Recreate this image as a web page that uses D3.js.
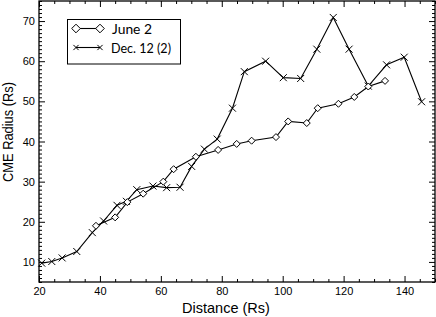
<!DOCTYPE html>
<html>
<head>
<meta charset="utf-8">
<script src="https://cdn.jsdelivr.net/npm/d3@7"></script>
<style>
  body { margin: 0; background: #fff; }
  text { font-family: "Liberation Sans", Arial, sans-serif; fill: #000; }
</style>
</head>
<body>
<div id="chart"></div>
<script>
// June 2 event (diamonds)
var juneDist = [38.7, 45.0, 49.0, 54.2, 60.8, 64.2, 71.5, 78.8, 84.9, 89.8, 97.8, 101.8, 107.9, 111.5, 118.3, 123.5, 128.1, 133.6];
var juneRad  = [19.0, 21.1, 24.9, 27.0, 30.0, 33.1, 36.2, 37.9, 39.4, 40.2, 41.1, 45.0, 44.6, 48.3, 49.4, 51.1, 53.7, 55.1];

// Dec. 12 (2) event (crosses)
var decDist = [20.9, 24.2, 27.6, 32.4, 37.5, 41.2, 45.6, 48.7, 52.1, 57.4, 61.9, 66.3, 70.1, 74.3, 78.5, 83.5, 87.4, 94.4, 100.2, 105.9, 111.2, 116.6, 121.8, 128.1, 134.1, 139.9, 145.6];
var decRad  = [9.7, 10.1, 11.0, 12.6, 17.3, 20.2, 24.1, 25.1, 28.0, 28.9, 28.5, 28.6, 33.8, 38.1, 40.6, 48.3, 57.4, 60.0, 55.9, 55.7, 63.0, 70.9, 63.0, 53.8, 59.1, 61.0, 49.9];

var xTicks = [20, 40, 60, 80, 100, 120, 140];
var yTicks = [10, 20, 30, 40, 50, 60, 70];
var legendLabels = ["June 2", "Dec. 12 (2)"];

function init() {
    var w = 436, h = 317;
    var left = 39, right = 435, top = 1, bottom = 282;

    var svg = d3.select("#chart").append("svg")
        .attr("width", w)
        .attr("height", h);

    var x = d3.scaleLinear().domain([20, 150]).range([left, right]);
    var y = d3.scaleLinear().domain([5, 75]).range([bottom, top]);

    // minor ticks
    var xMinor = d3.range(20, 151, 5).filter(function (d) { return d % 20 !== 0; });
    var yMinor = d3.range(5, 76, 1).filter(function (d) { return d % 10 !== 0; });

    function noDomain(g) { g.select(".domain").remove(); }

    // bottom & top
    svg.append("g").attr("transform", "translate(0," + bottom + ")")
        .call(d3.axisBottom(x).tickValues(xMinor).tickSize(-3).tickFormat(""))
        .call(noDomain);
    svg.append("g").attr("class", "x-axis").attr("transform", "translate(0," + bottom + ")")
        .call(d3.axisBottom(x).tickValues(xTicks).tickSize(-6).tickPadding(5))
        .call(function (g) { noDomain(g); g.selectAll("text").style("font-size", "11px"); });
    svg.append("g").attr("transform", "translate(0," + top + ")")
        .call(d3.axisTop(x).tickValues(xMinor).tickSize(-3).tickFormat(""))
        .call(noDomain);
    svg.append("g").attr("transform", "translate(0," + top + ")")
        .call(d3.axisTop(x).tickValues(xTicks).tickSize(-6).tickFormat(""))
        .call(noDomain);

    // left & right
    svg.append("g").attr("transform", "translate(" + left + ",0)")
        .call(d3.axisLeft(y).tickValues(yMinor).tickSize(-3).tickFormat(""))
        .call(noDomain);
    svg.append("g").attr("class", "y-axis").attr("transform", "translate(" + left + ",0)")
        .call(d3.axisLeft(y).tickValues(yTicks).tickSize(-6).tickPadding(4))
        .call(function (g) { noDomain(g); g.selectAll("text").style("font-size", "11px"); });
    svg.append("g").attr("transform", "translate(" + right + ",0)")
        .call(d3.axisRight(y).tickValues(yMinor).tickSize(-3).tickFormat(""))
        .call(noDomain);
    svg.append("g").attr("transform", "translate(" + right + ",0)")
        .call(d3.axisRight(y).tickValues(yTicks).tickSize(-6).tickFormat(""))
        .call(noDomain);

    svg.append("rect")
        .attr("x", left).attr("y", top)
        .attr("width", right - left).attr("height", bottom - top)
        .attr("fill", "none").attr("stroke", "#000").attr("stroke-width", 1.3);

    var line = d3.line().x(function (d) { return x(d[0]); }).y(function (d) { return y(d[1]); });
    var june = d3.zip(juneDist, juneRad);
    var dec = d3.zip(decDist, decRad);

    function diamond(sel, r) {
        sel.append("path")
            .attr("d", "M0," + (-r) + "L" + r + ",0L0," + r + "L" + (-r) + ",0Z")
            .attr("fill", "#fff").attr("stroke", "#000").attr("stroke-width", 1);
    }
    function cross(sel, r) {
        sel.append("path")
            .attr("d", "M" + (-r) + "," + (-r) + "L" + r + "," + r + "M" + (-r) + "," + r + "L" + r + "," + (-r))
            .attr("fill", "none").attr("stroke", "#000").attr("stroke-width", 1);
    }

    svg.append("path").datum(dec).attr("d", line)
        .attr("fill", "none").attr("stroke", "#000").attr("stroke-width", 1.1);
    svg.append("path").datum(june).attr("d", line)
        .attr("fill", "none").attr("stroke", "#000").attr("stroke-width", 1.1);

    svg.append("g").selectAll("g").data(dec).join("g")
        .attr("transform", function (d) { return "translate(" + x(d[0]) + "," + y(d[1]) + ")"; })
        .each(function () { cross(d3.select(this), 3.5); });
    svg.append("g").selectAll("g").data(june).join("g")
        .attr("transform", function (d) { return "translate(" + x(d[0]) + "," + y(d[1]) + ")"; })
        .each(function () { diamond(d3.select(this), 3.5); });

    // legend
    var lg = svg.append("g");
    lg.append("rect").attr("x", 67.5).attr("y", 19.5).attr("width", 113).attr("height", 44.5)
        .attr("fill", "#fff").attr("stroke", "#000").attr("stroke-width", 1);
    [28.5, 47.5].forEach(function (ly, i) {
        lg.append("line").attr("x1", 76).attr("x2", 100).attr("y1", ly).attr("y2", ly)
            .attr("stroke", "#000").attr("stroke-width", 1.1);
        [76, 100].forEach(function (lx) {
            var m = lg.append("g").attr("transform", "translate(" + lx + "," + ly + ")");
            if (i === 0) diamond(m, 4.3); else cross(m, 2.6);
        });
        lg.append("text").attr("x", i === 0 ? 112 : 111).attr("y", ly + 5.5)
            .style("font-family", "Lato, sans-serif")
            .style("font-size", "13.5px")
            .attr("textLength", i === 0 ? 40 : 60).attr("lengthAdjust", "spacingAndGlyphs")
            .text(legendLabels[i]);
    });

    svg.append("text").attr("x", 226).attr("y", 313)
        .style("text-anchor", "middle").style("font-size", "14.5px").text("Distance (Rs)");
    svg.append("text").attr("transform", "rotate(-90)")
        .attr("x", -182).attr("y", 13)
        .attr("textLength", 100).attr("lengthAdjust", "spacingAndGlyphs")
        .style("font-size", "14px").text("CME Radius (Rs)");
}

window.onload = init;
</script>
</body>
</html>
